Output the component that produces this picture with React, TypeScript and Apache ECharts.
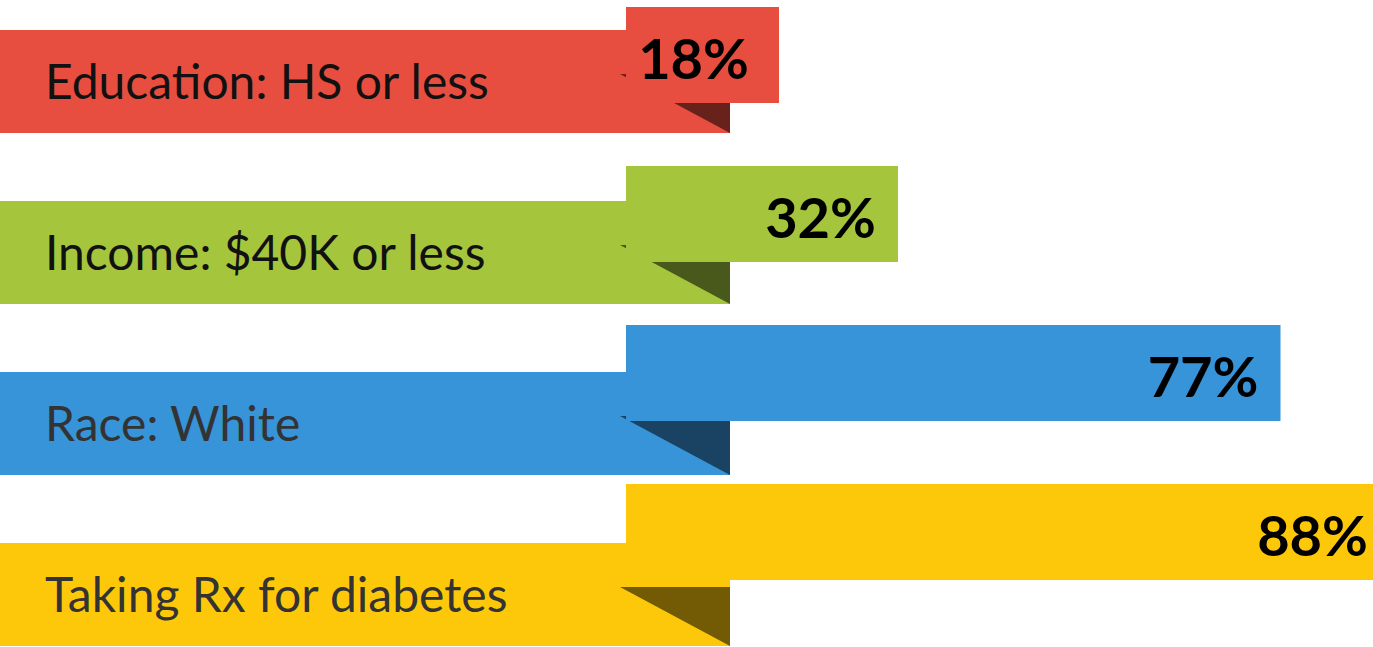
import React, { useEffect, useRef } from "react";
import * as echarts from "echarts";

const categories = [
  "Education: HS or less",
  "Income: $40K or less",
  "Race: White",
  "Taking Rx for diabetes",
];
const values = [18, 32, 77, 88];

const barColors = ["#E74E40", "#A5C53D", "#3894D8", "#FEC80A"];
const foldColors = ["#69211B", "#48591B", "#1A4262", "#735B05"];
const labelColors = ["#111111", "#111111", "#333333", "#333333"];
const valueInsets = [30, 22, 22, 6];

export default function App() {
  const ref = useRef<HTMLDivElement>(null);
  useEffect(() => {
    if (!ref.current) return;
    const chart = echarts.init(ref.current, null, { renderer: "svg" });
    chart.setOption({
      animation: false,
      grid: { left: 626, top: 0, width: 850, height: 647, containLabel: false },
      xAxis: { type: "value", min: 0, max: 100, show: false },
      yAxis: { type: "value", min: 0, max: 3, show: false },
      series: [
        {
          type: "custom",
          clip: false,
          data: values.map((v, i) => ({ value: [v, i] })),
          renderItem: (params: any, api: any) => {
            const i = params.dataIndex;
            const v = api.value(0);
            const x0 = api.coord([0, 0])[0];
            const x1 = api.coord([v, 0])[0];
            const valTop = 7 + 159 * i;
            const valH = 96;
            const bandTop = 30 + 171 * i;
            const bandH = 103;
            const bandRight = 730;
            const valueText = `${values[i]}%`;
            const tx = x1 - valueInsets[i];
            return {
              type: "group",
              children: [
                {
                  type: "rect",
                  shape: { x: 0, y: bandTop, width: bandRight, height: bandH },
                  style: { fill: barColors[i] },
                },
                {
                  type: "polygon",
                  shape: {
                    points: [
                      [x0 - 6, bandTop + 44],
                      [bandRight, bandTop + 44],
                      [bandRight, bandTop + bandH],
                    ],
                  },
                  style: { fill: foldColors[i] },
                },
                {
                  type: "rect",
                  shape: { x: x0, y: valTop, width: x1 - x0, height: valH },
                  style: { fill: barColors[i] },
                },
                {
                  type: "text",
                  style: {
                    text: categories[i],
                    x: 45,
                    y: bandTop + bandH / 2 - 1,
                    font: "48px Lato",
                    fill: labelColors[i],
                    align: "left",
                    verticalAlign: "middle",
                    textAlign: "left",
                    textVerticalAlign: "middle",
                  },
                },
                {
                  type: "text",
                  style: {
                    text: valueText,
                    x: tx,
                    y: valTop + 50,
                    font: "bold 56px Lato",
                    fill: "#000000",
                    align: "right",
                    verticalAlign: "middle",
                    textAlign: "right",
                    textVerticalAlign: "middle",
                  },
                },
              ],
            };
          },
        },
      ],
    });
    return () => chart.dispose();
  }, []);
  return (
    <div
      style={{
        position: "absolute",
        left: 0,
        top: 0,
        width: 1373,
        height: 647,
        overflow: "hidden",
      }}
    >
      <div ref={ref} style={{ width: 1476, height: 647 }} />
    </div>
  );
}
